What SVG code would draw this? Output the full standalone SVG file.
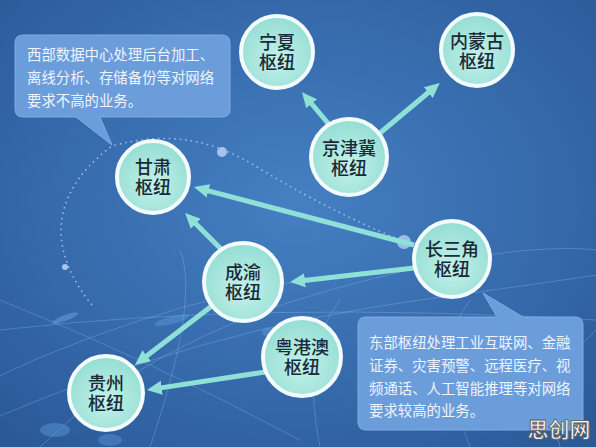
<svg xmlns="http://www.w3.org/2000/svg" width="596" height="447" viewBox="0 0 596 447">
<defs>
<radialGradient id="bg" cx="0.5" cy="0.45" r="0.75">
<stop offset="0" stop-color="#4580c2"/>
<stop offset="0.6" stop-color="#3468a9"/>
<stop offset="1" stop-color="#2a5795"/>
</radialGradient>
<radialGradient id="nodeFill" cx="0.5" cy="0.6" r="0.6">
<stop offset="0" stop-color="#c4f2ea"/>
<stop offset="1" stop-color="#93ddd3"/>
</radialGradient>
<marker id="ah" viewBox="0 -8 16 16" refX="1" refY="0" markerWidth="16" markerHeight="16" markerUnits="userSpaceOnUse" orient="auto">
<path d="M0,-7 L15,0 L0,7 Z" fill="#8fe1d8"/>
</marker>
<style>
.node circle{fill:url(#nodeFill);stroke:#f4fbff;stroke-width:4}
.node text{font-family:"Noto Sans CJK SC","Noto Sans",sans-serif;font-size:18px;font-weight:500;fill:#1b2a38;text-anchor:middle}
.conn line{stroke:#8fe1d8;stroke-width:5;marker-end:url(#ah)}
.callout path{fill:#6c9ddb;stroke:#7fabe2;stroke-width:1}
.callout text{font-family:"Noto Sans CJK SC","Noto Sans",sans-serif;font-size:14.4px;fill:#eef4ff}
.deco{fill:none;stroke:#a9c8ee;stroke-opacity:0.28;stroke-width:1}
.dots{fill:none;stroke:#b6d2f5;stroke-width:1.6;stroke-dasharray:1.5 4;stroke-opacity:0.8}
</style>
</defs>
<rect width="596" height="447" fill="url(#bg)"/>
<g id="background">
<path class="deco" d="M-10,420 Q200,330 420,300 T620,270"/>
<path class="deco" d="M-10,380 Q180,290 380,270"/>
<path class="deco" d="M40,447 Q150,340 330,290 T600,250"/>
<path class="deco" d="M150,447 Q200,300 180,250"/>
<path class="deco" d="M320,447 Q300,350 340,300"/>
<path class="deco" d="M470,447 Q430,350 470,300"/>
<path class="deco" d="M0,300 Q150,360 300,440"/>
<path class="deco" d="M0,330 Q260,300 596,320"/>
<path class="deco" d="M560,447 Q540,380 596,330"/>
<ellipse cx="65" cy="318" rx="14" ry="3" fill="#6aa3e0" opacity="0.5" transform="rotate(-20 65 318)"/>
<ellipse cx="172" cy="320" rx="18" ry="4" fill="#5a95d6" opacity="0.5" transform="rotate(-15 172 320)"/>
<ellipse cx="55" cy="430" rx="15" ry="7" fill="#5a95d6" opacity="0.5"/>
<ellipse cx="110" cy="440" rx="12" ry="6" fill="#5a95d6" opacity="0.45"/>
<ellipse cx="270" cy="332" rx="8" ry="5" fill="#5a95d6" opacity="0.5"/>
<path class="dots" d="M92,305 C55,260 40,200 112,146 C170,130 215,140 262,170 C320,205 370,228 410,244"/>
<circle cx="222" cy="152" r="5" fill="#a4c4ee"/>
<circle cx="65" cy="267" r="3" fill="#a4c4ee"/>
<circle cx="404" cy="242" r="7" fill="#a4c4ee" opacity="0.9"/>
</g>
<g id="callout-west" class="callout">
<path d="M23,35 H222 Q230,35 230,43 V109 Q230,117 222,117 H100 L112,145 L76,117 H23 Q15,117 15,109 V43 Q15,35 23,35 Z"/>
<text x="27" y="60">西部数据中心处理后台加工、</text>
<text x="27" y="83">离线分析、存储备份等对网络</text>
<text x="27" y="106">要求不高的业务。</text>
</g>
<g id="callout-east" class="callout">
<path d="M366,317 H497 L483,293 L523,317 H575 Q583,317 583,325 V422 Q583,430 575,430 H366 Q358,430 358,422 V325 Q358,317 366,317 Z"/>
<text x="369" y="348">东部枢纽处理工业互联网、金融</text>
<text x="369" y="371">证券、灾害预警、远程医疗、视</text>
<text x="369" y="394">频通话、人工智能推理等对网络</text>
<text x="369" y="416">要求较高的业务。</text>
</g>
<g id="connectors" class="conn">
<line x1="332" y1="128" x2="311" y2="103"/>
<line x1="380" y1="133" x2="429" y2="92"/>
<line x1="414" y1="245" x2="207.5" y2="190.6"/>
<line x1="414" y1="268" x2="304" y2="280.4"/>
<line x1="222" y1="250" x2="195" y2="223"/>
<line x1="213" y1="305" x2="146" y2="356.4"/>
<line x1="265" y1="372" x2="160.8" y2="387.9"/>
</g>
<g id="node-ningxia" class="node"><circle cx="277" cy="52" r="36"/><text x="277" y="48.5">宁夏<tspan x="277" dy="20">枢纽</tspan></text></g>
<g id="node-neimenggu" class="node"><circle cx="477" cy="50" r="36"/><text x="477" y="47.5">内蒙古<tspan x="477" dy="20">枢纽</tspan></text></g>
<g id="node-jingjinji" class="node"><circle cx="349" cy="157" r="38"/><text x="349" y="154.5">京津冀<tspan x="349" dy="20">枢纽</tspan></text></g>
<g id="node-gansu" class="node"><circle cx="153" cy="177" r="36"/><text x="153" y="173.5">甘肃<tspan x="153" dy="20">枢纽</tspan></text></g>
<g id="node-changsanjiao" class="node"><circle cx="452" cy="259" r="38"/><text x="452" y="255.5">长三角<tspan x="452" dy="20">枢纽</tspan></text></g>
<g id="node-chengyu" class="node"><circle cx="243" cy="282" r="39"/><text x="243" y="278.5">成渝<tspan x="243" dy="20">枢纽</tspan></text></g>
<g id="node-yuegangao" class="node"><circle cx="302" cy="357" r="39"/><text x="302" y="353.5">粤港澳<tspan x="302" dy="20">枢纽</tspan></text></g>
<g id="node-guizhou" class="node"><circle cx="106" cy="393" r="37"/><text x="106" y="389.5">贵州<tspan x="106" dy="20">枢纽</tspan></text></g>
<text x="559" y="437" font-family="Noto Sans CJK SC,sans-serif" font-size="21" font-weight="bold" fill="#f4f4f4" stroke="#5a5a5a" stroke-width="0.8" text-anchor="middle">思创网</text>
</svg>
